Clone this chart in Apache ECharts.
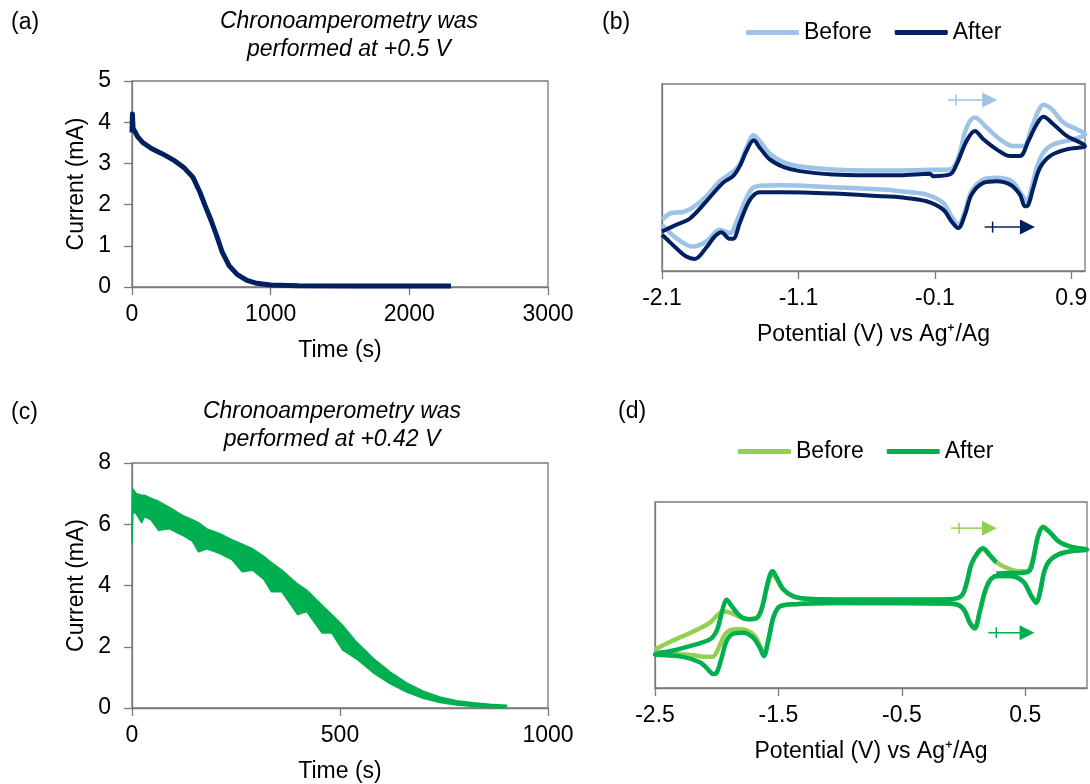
<!DOCTYPE html>
<html>
<head>
<meta charset="utf-8">
<script src="https://cdn.jsdelivr.net/npm/echarts@6.0.0/dist/echarts.min.js"></script>
<style>
html, body { margin: 0; padding: 0; background: #fff; }
#main { width: 1090px; height: 784px; }
</style>
</head>
<body>
<div id="main"></div>
<script>
// (a) chronoamperometry at +0.5 V
var aTime = [0, 3, 8, 20, 40, 80, 140, 220, 300, 380, 440, 490, 530, 570, 610, 650, 700, 760, 830, 900, 1000, 1200, 1600, 2000, 2300];
var aCurrent = [3.75, 4.2, 3.85, 3.78, 3.65, 3.5, 3.36, 3.23, 3.08, 2.88, 2.66, 2.3, 1.95, 1.62, 1.25, 0.85, 0.52, 0.3, 0.16, 0.09, 0.05, 0.03, 0.025, 0.025, 0.025];

// (c) chronoamperometry at +0.42 V, noisy trace read as upper / lower envelope
var cTime  = [0, 2, 10, 23, 30, 45, 64, 90, 120, 145, 160, 180, 210, 240, 265, 290, 317, 335, 360, 398, 420, 457, 480, 506, 540, 580, 620, 660, 700, 740, 780, 820, 860, 900];
var cUpper = [6.4, 7.15, 7.0, 6.95, 6.95, 6.85, 6.75, 6.55, 6.3, 6.15, 6.05, 5.85, 5.7, 5.5, 5.35, 5.2, 4.95, 4.75, 4.5, 4.05, 3.85, 3.35, 3.05, 2.7, 2.15, 1.62, 1.18, 0.82, 0.55, 0.36, 0.24, 0.17, 0.12, 0.09];
var cLower = [5.4, 6.4, 6.35, 6.05, 6.25, 6.15, 5.8, 5.85, 5.65, 5.45, 5.1, 5.2, 5.05, 4.85, 4.45, 4.5, 4.2, 3.8, 3.8, 3.05, 3.15, 2.45, 2.45, 1.9, 1.6, 1.15, 0.8, 0.52, 0.32, 0.18, 0.1, 0.05, 0.02, 0.01];

// (b) CV before / after, potential (V vs Ag+/Ag) and current (arb.)
var bBeforeV = [-2.10, -2.032, -1.946, -1.873, -1.775, -1.677, -1.579, -1.530, -1.481, -1.428, -1.384, -1.310, -1.212, -1.090, -0.846, -0.601, -0.357, -0.112, 0.010, 0.071, 0.132, 0.193, 0.279, 0.377, 0.475, 0.548, 0.609, 0.658, 0.695, 0.756, 0.841, 0.939, 1.000,
  0.915, 0.768, 0.695, 0.646, 0.609, 0.572, 0.536, 0.462, 0.352, 0.255, 0.169, 0.120, 0.071, 0.022, -0.039, -0.161, -0.357, -0.479, -0.846, -1.212, -1.359, -1.433, -1.481, -1.543, -1.604, -1.677, -1.775, -1.873, -1.995, -2.10];
var bBeforeI = [-1.26, -1.06, -1.03, -0.89, -0.56, -0.11, 0.17, 0.39, 0.89, 1.26, 1.09, 0.71, 0.46, 0.33, 0.24, 0.21, 0.21, 0.23, 0.24, 0.59, 1.49, 1.79, 1.49, 1.14, 0.94, 0.94, 1.49, 1.99, 2.17, 2.04, 1.64, 1.44, 1.29,
  1.14, 0.99, 0.74, 0.29, -0.31, -0.71, -0.51, -0.11, -0.01, -0.06, -0.41, -1.01, -1.41, -1.16, -0.76, -0.51, -0.41, -0.36, -0.29, -0.23, -0.24, -0.31, -0.61, -1.21, -1.66, -1.56, -1.91, -2.06, -1.81, -1.41];
var bAfterV = [-2.10, -1.995, -1.897, -1.775, -1.653, -1.579, -1.530, -1.481, -1.428, -1.384, -1.310, -1.212, -1.090, -0.846, -0.601, -0.357, -0.137, -0.112, 0.010, 0.059, 0.132, 0.193, 0.255, 0.352, 0.450, 0.523, 0.585, 0.646, 0.695, 0.768, 0.866, 1.000,
  0.866, 0.743, 0.670, 0.621, 0.585, 0.560, 0.523, 0.450, 0.352, 0.255, 0.169, 0.120, 0.071, 0.022, -0.039, -0.161, -0.357, -0.479, -0.846, -1.212, -1.384, -1.437, -1.481, -1.530, -1.579, -1.604, -1.665, -1.714, -1.775, -1.860, -1.922, -1.995, -2.068, -2.10];
var bAfterI = [-1.61, -1.41, -1.23, -0.71, -0.16, 0.04, 0.34, 0.79, 1.11, 0.89, 0.54, 0.32, 0.19, 0.09, 0.07, 0.07, 0.11, 0.04, 0.09, 0.39, 1.09, 1.39, 1.14, 0.84, 0.64, 0.64, 1.09, 1.59, 1.81, 1.59, 1.24, 0.94,
  0.84, 0.64, 0.29, -0.31, -0.81, -0.86, -0.51, -0.21, -0.11, -0.16, -0.51, -1.11, -1.51, -1.31, -0.96, -0.71, -0.59, -0.56, -0.48, -0.44, -0.44, -0.56, -0.86, -1.36, -1.83, -1.83, -1.63, -1.76, -2.09, -2.43, -2.36, -2.11, -1.83, -1.71];

// (d) CV before / after
var dBeforeV = [-2.500, -2.406, -2.271, -2.136, -2.055, -2.001, -1.947, -1.893, -1.812, -1.745, -1.677, -1.637, -1.596, -1.569, -1.548, -1.515, -1.461, -1.381, -1.273, -1.057, -0.517, -0.113, -0.018, 0.022, 0.063, 0.117, 0.157, 0.212, 0.265, 0.373, 0.467, 0.521, 0.562, 0.602, 0.643, 0.697, 0.778, 0.885, 1.000,
  0.885, 0.778, 0.697, 0.656, 0.616, 0.589, 0.548, 0.481, 0.373, 0.265, 0.212, 0.171, 0.130, 0.090, 0.049, 0.009, -0.045, -0.140, -1.057, -1.381, -1.461, -1.502, -1.542, -1.583, -1.618, -1.650, -1.691, -1.758, -1.839, -1.893, -1.934, -1.987, -2.033, -2.082, -2.190, -2.352, -2.500];
var dBeforeI = [-1.63, -1.45, -1.23, -1.00, -0.83, -0.63, -0.50, -0.53, -0.66, -0.72, -0.68, -0.43, 0.17, 0.52, 0.62, 0.47, 0.15, -0.05, -0.12, -0.14, -0.15, -0.14, -0.04, 0.30, 0.90, 1.25, 1.36, 1.17, 0.97, 0.77, 0.70, 0.72, 1.07, 1.75, 2.04, 1.88, 1.58, 1.42, 1.35,
  1.31, 1.22, 1.02, 0.72, 0.04, -0.22, -0.01, 0.40, 0.56, 0.55, 0.42, 0.07, -0.51, -0.96, -0.81, -0.47, -0.30, -0.26, -0.24, -0.28, -0.31, -0.38, -0.68, -1.36, -1.78, -1.53, -1.23, -1.06, -1.03, -1.06, -1.18, -1.60, -1.85, -1.85, -1.80, -1.76, -1.68];
var dAfterV = [0.265, 0.373, 0.481, 0.535, 0.562, 0.602, 0.643, 0.697, 0.778, 0.885, 1.000,
  0.885, 0.778, 0.697, 0.656, 0.616, 0.589, 0.548, 0.481, 0.373, 0.265, 0.212, 0.171, 0.130, 0.090, 0.049, 0.009, -0.045, -0.140, -0.517, -1.057, -1.381, -1.461, -1.502, -1.542, -1.583, -1.618, -1.650, -1.704, -1.785, -1.866, -1.920, -1.960, -2.001, -2.028, -2.082, -2.136, -2.271, -2.406, -2.500,
  -2.352, -2.190, -2.055, -2.001, -1.969, -1.942, -1.920, -1.880, -1.812, -1.745, -1.677, -1.637, -1.596, -1.569, -1.548, -1.515, -1.461, -1.381, -1.273, -1.057, -0.517, -0.113, -0.018, 0.022, 0.063, 0.117, 0.157, 0.212, 0.265];
var dAfterI = [0.64, 0.65, 0.66, 0.72, 1.02, 1.72, 2.02, 1.87, 1.57, 1.42, 1.35,
  1.31, 1.22, 1.02, 0.72, 0.02, -0.24, -0.03, 0.40, 0.56, 0.56, 0.42, 0.07, -0.53, -1.00, -0.83, -0.48, -0.30, -0.26, -0.24, -0.24, -0.28, -0.31, -0.38, -0.68, -1.38, -1.83, -1.58, -1.28, -1.13, -1.16, -1.38, -1.88, -2.33, -2.36, -2.18, -2.01, -1.85, -1.80, -1.78,
  -1.66, -1.50, -1.33, -1.08, -0.68, -0.30, -0.15, -0.33, -0.63, -0.73, -0.70, -0.43, 0.22, 0.59, 0.70, 0.52, 0.17, -0.04, -0.12, -0.14, -0.14, -0.13, -0.03, 0.32, 0.92, 1.27, 1.39, 1.19, 0.97];

// scan-direction arrows: [start potential, end potential, current]
var bArrowBefore = [0.054, 0.357, 2.31];
var bArrowAfter = [0.323, 0.633, -1.48];
var dArrowBefore = [-0.037, 0.270, 1.99];
var dArrowAfter = [0.265, 0.575, -1.13];

var bTicks = [-2.1, -1.1, -0.1, 0.9];
var dTicks = [-2.5, -1.5, -0.5, 0.5];

var FONT = '"Liberation Sans", Arial, sans-serif';
var GRAY = '#7a7a7a';
var NAVY = '#002060', LIGHTBLUE = '#9DC3E6';
var GREEN = '#00B050', LIGHTGREEN = '#92D050';

function pairs(xs, ys) {
  return xs.map(function (x, i) { return [x, ys[i]]; });
}

function arrowItem(params, api) {
  var p0 = api.coord([api.value(0), api.value(2)]);
  var p1 = api.coord([api.value(1), api.value(2)]);
  var color = api.visual('color');
  return {
    type: 'group',
    children: [
      { type: 'line', shape: { x1: p0[0] - 8, y1: p0[1], x2: p1[0] - 14, y2: p1[1] }, style: { stroke: color, lineWidth: 1.5 } },
      { type: 'line', shape: { x1: p0[0], y1: p0[1] - 5.5, x2: p0[0], y2: p0[1] + 5.5 }, style: { stroke: color, lineWidth: 1.5 } },
      { type: 'polygon', shape: { points: [[p1[0] - 15, p1[1] - 7.5], [p1[0], p1[1]], [p1[0] - 15, p1[1] + 7.5]] }, style: { fill: color } }
    ]
  };
}

function bandItem(params, api) {
  if (params.dataIndex !== 0) return null;
  var pts = [];
  for (var i = 0; i < cTime.length; i++) pts.push(api.coord([cTime[i], cUpper[i]]));
  for (var j = cTime.length - 1; j >= 0; j--) pts.push(api.coord([cTime[j], cLower[j]]));
  return { type: 'polygon', shape: { points: pts }, style: { fill: GREEN, stroke: GREEN, lineWidth: 1.5, lineJoin: 'round' } };
}

function plain(v) { return String(v); }

function xAx(grid, min, max, interval, name, ticks) {
  var ax = {
    gridIndex: grid, type: 'value', min: min, max: max,
    name: name, nameLocation: 'middle', nameGap: 52,
    nameTextStyle: { fontSize: 23, color: '#000', fontFamily: FONT },
    axisLine: { show: true, onZero: false, lineStyle: { color: GRAY, width: 1.3 } },
    axisTick: { show: true, inside: false, length: 8, lineStyle: { color: GRAY, width: 1.3 } },
    axisLabel: { fontSize: 23, color: '#000', margin: 16, fontFamily: FONT, formatter: plain },
    splitLine: { show: false }
  };
  if (interval) ax.interval = interval;
  if (ticks) {
    ax.axisLabel.customValues = ticks;
    ax.axisTick.customValues = ticks;
  }
  return ax;
}

function yAx(grid, min, max, interval, name) {
  var labelled = !!name;
  var ax = {
    gridIndex: grid, type: 'value', min: min, max: max,
    axisLine: { show: true, onZero: false, lineStyle: { color: GRAY, width: 1.3 } },
    axisTick: { show: labelled, inside: false, length: 8, lineStyle: { color: GRAY, width: 1.3 } },
    axisLabel: { show: labelled, fontSize: 23, color: '#000', margin: 21, fontFamily: FONT, formatter: plain },
    splitLine: { show: false }
  };
  if (interval) ax.interval = interval;
  if (labelled) {
    ax.name = name;
    ax.nameLocation = 'middle';
    ax.nameGap = 44;
    ax.nameTextStyle = { fontSize: 23, color: '#000', fontFamily: FONT };
  }
  return ax;
}

function gridBox(left, top, width, height) {
  return { left: left, top: top, width: width, height: height, show: true,
           borderColor: GRAY, borderWidth: 1.3, outerBoundsMode: 'none', containLabel: false };
}

function legendAt(names, left, top) {
  return {
    data: names, left: left, top: top, padding: 0, orient: 'horizontal',
    icon: 'roundRect', itemWidth: 53, itemHeight: 5, itemGap: 23, selectedMode: false,
    formatter: function (n) { return n.replace(/ \(.\)$/, ''); },
    textStyle: { fontSize: 23, color: '#000', fontFamily: FONT }
  };
}

function label(text, x, y, italic, align) {
  return {
    type: 'text', x: x, y: y,
    style: {
      text: text, fill: '#000', align: align || 'left', verticalAlign: 'middle', lineHeight: 28,
      font: (italic ? 'italic ' : '') + '23px ' + FONT
    }
  };
}

var option = {
  animation: false,
  backgroundColor: '#fff',
  textStyle: { fontFamily: FONT },
  grid: [
    gridBox(132, 81, 416, 206),
    gridBox(662, 84, 423, 187),
    gridBox(132, 463, 416, 245),
    gridBox(655, 502, 432, 186)
  ],
  xAxis: [
    xAx(0, 0, 3000, 1000, 'Time (s)'),
    xAx(1, -2.1, 1.0, null, 'Potential (V) vs Ag\u207A/Ag', bTicks),
    xAx(2, 0, 1000, 500, 'Time (s)'),
    xAx(3, -2.5, 1.0, null, 'Potential (V) vs Ag\u207A/Ag', dTicks)
  ],
  yAxis: [
    yAx(0, 0, 5, 1, 'Current (mA)'),
    yAx(1, -2.79, 2.79, null, null),
    yAx(2, 0, 8, 2, 'Current (mA)'),
    yAx(3, -2.78, 2.77, null, null)
  ],
  legend: [
    legendAt(['Before (b)', 'After (b)'], 746, 21),
    legendAt(['Before (d)', 'After (d)'], 738, 440)
  ],
  graphic: [
    label('(a)', 11, 23),
    label('(b)', 602, 23),
    label('(c)', 11, 413),
    label('(d)', 618, 412),
    label('Chronoamperometry was\nperformed at +0.5 V', 349, 36, true, 'center'),
    label('Chronoamperometry was\nperformed at +0.42 V', 332, 426, true, 'center')
  ],
  series: [
    {
      type: 'line', xAxisIndex: 0, yAxisIndex: 0, data: pairs(aTime, aCurrent),
      symbol: 'none', lineStyle: { color: NAVY, width: 5, join: 'round' }, itemStyle: { color: NAVY }
    },
    {
      name: 'Before (b)', type: 'line', xAxisIndex: 1, yAxisIndex: 1, data: pairs(bBeforeV, bBeforeI),
      symbol: 'none', smooth: 0.35, lineStyle: { color: LIGHTBLUE, width: 4.5 }, itemStyle: { color: LIGHTBLUE }
    },
    {
      name: 'After (b)', type: 'line', xAxisIndex: 1, yAxisIndex: 1, data: pairs(bAfterV, bAfterI),
      symbol: 'none', smooth: 0.35, lineStyle: { color: NAVY, width: 4 }, itemStyle: { color: NAVY }
    },
    {
      type: 'custom', xAxisIndex: 1, yAxisIndex: 1, data: [bArrowBefore], encode: { x: [0, 1], y: 2 },
      renderItem: arrowItem, itemStyle: { color: LIGHTBLUE }
    },
    {
      type: 'custom', xAxisIndex: 1, yAxisIndex: 1, data: [bArrowAfter], encode: { x: [0, 1], y: 2 },
      renderItem: arrowItem, itemStyle: { color: NAVY }
    },
    {
      type: 'custom', xAxisIndex: 2, yAxisIndex: 2,
      data: cTime.map(function (t, i) { return [t, cUpper[i], cLower[i]]; }),
      encode: { x: 0, y: [1, 2] }, renderItem: bandItem, itemStyle: { color: GREEN }
    },
    {
      name: 'Before (d)', type: 'line', xAxisIndex: 3, yAxisIndex: 3, data: pairs(dBeforeV, dBeforeI),
      symbol: 'none', smooth: 0.35, lineStyle: { color: LIGHTGREEN, width: 4.5 }, itemStyle: { color: LIGHTGREEN }
    },
    {
      name: 'After (d)', type: 'line', xAxisIndex: 3, yAxisIndex: 3, data: pairs(dAfterV, dAfterI),
      symbol: 'none', smooth: 0.35, lineStyle: { color: GREEN, width: 4.5 }, itemStyle: { color: GREEN }
    },
    {
      type: 'custom', xAxisIndex: 3, yAxisIndex: 3, data: [dArrowBefore], encode: { x: [0, 1], y: 2 },
      renderItem: arrowItem, itemStyle: { color: LIGHTGREEN }
    },
    {
      type: 'custom', xAxisIndex: 3, yAxisIndex: 3, data: [dArrowAfter], encode: { x: [0, 1], y: 2 },
      renderItem: arrowItem, itemStyle: { color: GREEN }
    }
  ]
};

var chart = echarts.init(document.getElementById('main'));
chart.setOption(option);
</script>
</body>
</html>
